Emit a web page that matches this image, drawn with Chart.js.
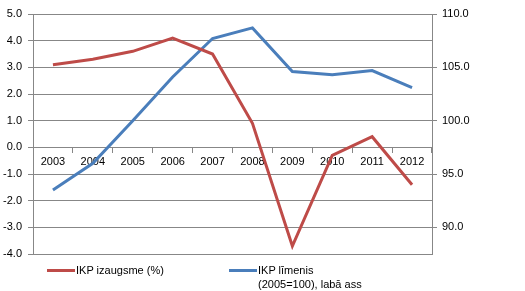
<!DOCTYPE html>
<html>
<head>
<meta charset="utf-8">
<script src="https://cdn.jsdelivr.net/npm/chart.js@4.4.1/dist/chart.umd.min.js"></script>
<style>
  html, body { margin: 0; padding: 0; background: #fff; }
  #wrap { position: relative; width: 525px; height: 291px; }
  #legend { position: absolute; left: 0; top: 0; font: 11px "Liberation Sans", Arial, sans-serif; color: #000; }
  .item { position: absolute; display: flex; align-items: flex-start; }
  .swatch { width: 28px; height: 3px; margin-top: 6px; margin-right: 1px; }
  .label { line-height: 14px; white-space: nowrap; }
</style>
</head>
<body>
<div id="wrap">
  <canvas id="chart" width="525" height="291"></canvas>
  <div id="legend"></div>
</div>
<script>
const years = ['2003', '2004', '2005', '2006', '2007', '2008', '2009', '2010', '2011', '2012'];
const growth = [3.1, 3.3, 3.6, 4.1, 3.5, 0.9, -3.7, -0.3, 0.4, -1.4];
const level = [93.5, 96.0, 100.0, 104.1, 107.7, 108.7, 104.6, 104.3, 104.7, 103.1];
const levelTicks = [90, 95, 100, 105, 110];

const red = '#BE4B48';
const blue = '#4A7EBB';
const gridColor = '#878787';
const font = { family: '"Liberation Sans", Arial, sans-serif', size: 11 };

const chart = new Chart(document.getElementById('chart'), {
  type: 'line',
  data: {
    labels: years,
    datasets: [
      {
        label: 'IKP izaugsme (%)',
        data: growth,
        yAxisID: 'y',
        borderColor: red,
        backgroundColor: red,
        borderWidth: 3,
        pointRadius: 0,
        tension: 0,
      },
      {
        label: ['IKP līmenis', '(2005=100), labā ass'],
        data: level,
        yAxisID: 'y2',
        borderColor: blue,
        backgroundColor: blue,
        borderWidth: 3,
        pointRadius: 0,
        tension: 0,
      },
    ],
  },
  options: {
    responsive: false,
    animation: false,
    layout: { padding: { top: 14, bottom: 37, left: 0, right: 0 } },
    plugins: {
      legend: { display: false },
      tooltip: { enabled: false },
    },
    scales: {
      x: {
        position: { y: 0 },
        offset: true,
        grid: {
          offset: true,
          drawOnChartArea: false,
          color: gridColor,
          tickLength: 5,
        },
        border: { color: gridColor },
        ticks: { color: '#000', font: font, padding: 3, maxRotation: 0 },
      },
      y: {
        position: 'left',
        min: -4,
        max: 5,
        ticks: {
          stepSize: 1,
          color: '#000',
          font: font,
          padding: 6,
          callback: (v) => v.toFixed(1),
        },
        grid: { color: gridColor, tickLength: 5 },
        border: { color: gridColor },
        afterFit: (axis) => { axis.width = 33; },
      },
      y2: {
        position: 'right',
        min: 87.5,
        max: 110,
        afterBuildTicks: (axis) => { axis.ticks = levelTicks.map((v) => ({ value: v })); },
        ticks: {
          color: '#000',
          font: font,
          padding: 5,
          callback: (v) => v.toFixed(1),
        },
        grid: { drawOnChartArea: false, color: gridColor, tickLength: 5 },
        border: { color: gridColor },
        afterFit: (axis) => { axis.width = 93; },
      },
    },
  },
});

// html legend, built from the datasets
const legendPos = [{ left: 47, top: 263 }, { left: 229, top: 263 }];
const legend = document.getElementById('legend');
chart.data.datasets.forEach((ds, i) => {
  const item = document.createElement('div');
  item.className = 'item';
  item.style.left = legendPos[i].left + 'px';
  item.style.top = legendPos[i].top + 'px';
  const sw = document.createElement('div');
  sw.className = 'swatch';
  sw.style.background = ds.borderColor;
  const lb = document.createElement('div');
  lb.className = 'label';
  lb.innerHTML = [].concat(ds.label).join('<br>');
  item.appendChild(sw);
  item.appendChild(lb);
  legend.appendChild(item);
});
</script>
</body>
</html>
